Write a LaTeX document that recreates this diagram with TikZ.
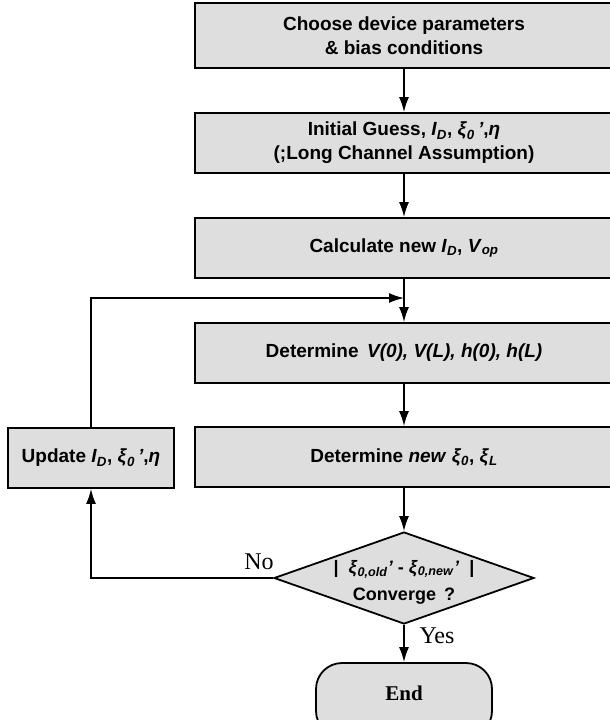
\documentclass[tikz,border=0pt]{standalone}
\usepackage{fontspec}
\setmainfont{Liberation Sans}
\newfontfamily\serifface{Liberation Serif}
\usetikzlibrary{arrows.meta,shapes.geometric}
\newcommand\vsub[2]{\textit{#1}\textsubscript{\textit{#2}}}
\begin{document}
\begin{tikzpicture}[x=1pt,y=-1pt,
  boxtext/.style={font=\fontsize{19}{24}\selectfont\bfseries, align=center},
  procbox/.style={draw=black, line width=1.8pt, fill=black!13, inner sep=0pt, boxtext},
  flow/.style={draw=black, line width=1.6pt, -{Latex[length=15pt,width=10pt]}},
  yesno/.style={font=\serifface\fontsize{24}{26}\selectfont}]
\clip (0,0) rectangle (610,720);
\useasboundingbox (0,0) rectangle (610,720);

\node[procbox, minimum width=418, minimum height=65] (b1) at (404,35.5)
  {Choose device parameters\\ \& bias conditions};
\node[procbox, minimum width=418, minimum height=60] (b2) at (404,143)
  {Initial Guess, \vsub{I}{D}, \vsub{ξ}{0}\,\textit{’},\textit{η}\\(;Long Channel Assumption)};
\node[procbox, minimum width=418, minimum height=60] (b3) at (404,248)
  {Calculate new \vsub{I}{D}, \vsub{V}{op}};
\node[procbox, minimum width=418, minimum height=60] (b4) at (404,353)
  {Determine\, \textit{V(0), V(L), h(0), h(L)}};
\node[procbox, minimum width=418, minimum height=60] (b5) at (404,457)
  {Determine \textit{new} \vsub{ξ}{0}, \vsub{ξ}{L}};
\node[procbox, minimum width=166, minimum height=60] (upd) at (91,458)
  {Update \vsub{I}{D}, \vsub{ξ}{0}\,\textit{’},\textit{η}};

\node[diamond, draw=black, line width=1.8pt, fill=black!13, inner sep=0pt,
      minimum width=260, minimum height=92, aspect=2.8] (dia) at (404,578) {};
\node[boxtext, font=\fontsize{18}{27}\selectfont\bfseries] (diatxt) at (404,582)
  {|\; \vsub{ξ}{0,old}\textit{’} - \vsub{ξ}{0,new}\textit{’}\; |\\Converge\, ?};

\node[draw=black, line width=1.8pt, fill=black!13, rounded corners=26pt,
      minimum width=176, minimum height=74, inner sep=0pt] (end) at (404,700) {};
\node[font=\serifface\fontsize{21}{23}\selectfont\bfseries] (endtxt) at (404,693) {End};

\coordinate (join) at (404,298);

\draw[flow] (b1) -- (b2);
\draw[flow] (b2) -- (b3);
\draw[flow] (b3) -- (b4);
\draw[flow] (b4) -- (b5);
\draw[flow] (b5) -- (dia);
\draw[flow] (dia.south) -- (end.north);
\draw[flow] (dia.west) -| (upd.south);
\draw[flow] (upd.north) |- (join);

\node[yesno] (no) at (259,562) {No};
\node[yesno] (yes) at (437,636) {Yes};
\end{tikzpicture}
\end{document}
